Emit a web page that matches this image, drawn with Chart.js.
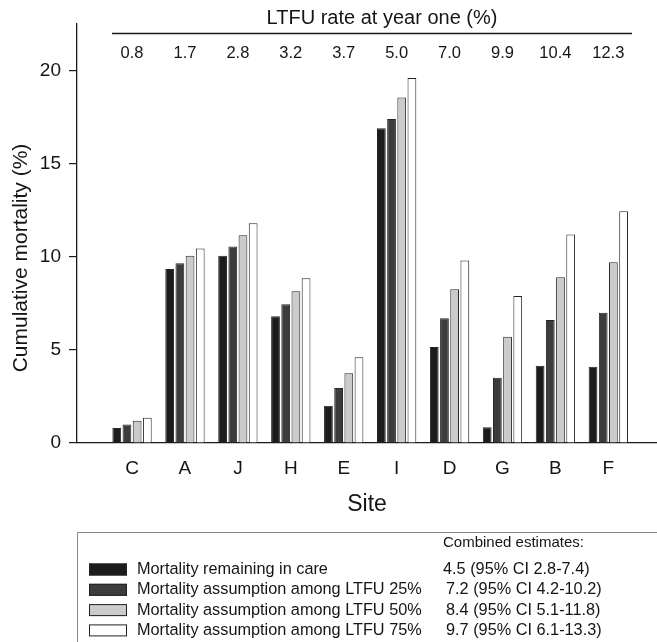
<!DOCTYPE html>
<html lang="en">
<head>
    <meta charset="UTF-8">
    <title>Cumulative mortality by site</title>
    <script src="https://cdn.jsdelivr.net/npm/chart.js"></script>
    <style>
        body { margin: 0; background: #fff; }
        canvas { display: block; }
    </style>
</head>
<body>
    <canvas id="grafico" width="657" height="642"></canvas>
<script>
    // dados
    const sites = ['C', 'A', 'J', 'H', 'E', 'I', 'D', 'G', 'B', 'F'];
    const ltfuRates = ['0.8', '1.7', '2.8', '3.2', '3.7', '5.0', '7.0', '9.9', '10.4', '12.3'];
    const yTicks = [0, 5, 10, 15, 20];

    const seriesNames = [
        'Mortality remaining in care',
        'Mortality assumption among LTFU 25%',
        'Mortality assumption among LTFU 50%',
        'Mortality assumption among LTFU 75%'
    ];
    const estimates = [
        '4.5 (95% CI 2.8-7.4)',
        '7.2 (95% CI 4.2-10.2)',
        '8.4 (95% CI 5.1-11.8)',
        '9.7 (95% CI 6.1-13.3)'
    ];

    const remainingInCare = [0.8, 9.35, 10.05, 6.8, 2.0, 16.9, 5.15, 0.85, 4.15, 4.1];
    const ltfu25 = [1.0, 9.65, 10.55, 7.45, 2.95, 17.4, 6.7, 3.5, 6.6, 7.0];
    const ltfu50 = [1.2, 10.05, 11.15, 8.15, 3.75, 18.55, 8.25, 5.7, 8.9, 9.7];
    const ltfu75 = [1.35, 10.45, 11.8, 8.85, 4.6, 19.6, 9.8, 7.9, 11.2, 12.45];

    const seriesValues = [remainingInCare, ltfu25, ltfu50, ltfu75];
    const fillColors = ['#1c1c1c', '#3c3c3c', '#cbcbcb', '#ffffff'];

    const fonte = "'Liberation Sans', Arial, sans-serif";
    const corTexto = '#151515';

    // eixo superior (taxa de LTFU), titulo do eixo y e legenda desenhados a mao
    const extras = {
        id: 'extras',
        afterDraw(chart) {
            const ctx = chart.ctx;
            const x = chart.scales.x;
            ctx.save();
            ctx.fillStyle = corTexto;
            ctx.strokeStyle = '#1a1a1a';

            // titulo e linha do eixo superior
            ctx.font = '20px ' + fonte;
            ctx.textAlign = 'center';
            ctx.textBaseline = 'middle';
            ctx.fillText('LTFU rate at year one (%)', 382, 18);
            ctx.lineWidth = 1.3;
            ctx.beginPath();
            ctx.moveTo(112, 33.5);
            ctx.lineTo(632, 33.5);
            ctx.stroke();

            ctx.font = '16.5px ' + fonte;
            for (let i = 0; i < ltfuRates.length; i++) {
                ctx.fillText(ltfuRates[i], x.getPixelForValue(i), 53);
            }

            // titulo do eixo y
            ctx.save();
            ctx.translate(21, 258);
            ctx.rotate(-Math.PI / 2);
            ctx.font = '21px ' + fonte;
            ctx.fillText('Cumulative mortality (%)', 0, 0);
            ctx.restore();

            // legenda
            ctx.lineWidth = 1;
            ctx.strokeStyle = '#8a8a8a';
            ctx.strokeRect(77.5, 532.5, 600, 130);

            ctx.textAlign = 'left';
            ctx.font = '15px ' + fonte;
            ctx.fillText('Combined estimates:', 443, 543);

            ctx.font = '16.3px ' + fonte;
            for (let i = 0; i < seriesNames.length; i++) {
                const y = 569.5 + i * 20.3;
                ctx.fillStyle = fillColors[i];
                ctx.fillRect(89, y - 6, 38, 12);
                ctx.strokeStyle = '#222';
                ctx.strokeRect(89.5, y - 5.5, 37, 11);
                ctx.fillStyle = corTexto;
                ctx.fillText(seriesNames[i], 137, y);
                ctx.fillText(estimates[i], i === 0 ? 443 : 446, y);
            }
            ctx.restore();
        }
    };

    const datasets = seriesNames.map((nome, s) => ({
        label: nome,
        data: sites.map((site, i) => ({ x: i, y: seriesValues[s][i] })),
        backgroundColor: fillColors[s],
        borderColor: '#262626',
        borderWidth: 1,
        categoryPercentage: 0.77,
        barPercentage: 0.86
    }));

    new Chart(document.getElementById('grafico'), {
        type: 'bar',
        data: { datasets: datasets },
        options: {
            responsive: false,
            animation: false,
            layout: { padding: { top: 24, right: 0, bottom: 124, left: 0 } },
            plugins: {
                legend: { display: false },
                tooltip: { enabled: false }
            },
            scales: {
                x: {
                    type: 'linear',
                    offset: false,
                    min: -1.04,
                    max: 9.92,
                    afterBuildTicks: (scale) => {
                        scale.ticks = sites.map((s, i) => ({ value: i }));
                    },
                    afterFit: (scale) => { scale.height = 75; },
                    grid: { display: false, drawTicks: false, tickLength: 0, offset: false },
                    border: { display: true, color: '#1a1a1a', width: 1.3 },
                    ticks: {
                        color: corTexto,
                        font: { family: fonte, size: 19 },
                        padding: 14,
                        maxRotation: 0,
                        autoSkip: false,
                        callback: (v) => sites[v] !== undefined ? sites[v] : ''
                    },
                    title: {
                        display: true,
                        text: 'Site',
                        color: corTexto,
                        font: { family: fonte, size: 23 },
                        padding: { top: 0, bottom: 0 }
                    }
                },
                y: {
                    min: 0,
                    max: 22.5,
                    afterBuildTicks: (scale) => {
                        scale.ticks = yTicks.map(v => ({ value: v }));
                    },
                    afterFit: (scale) => { scale.width = 77; },
                    grid: {
                        drawOnChartArea: false,
                        drawTicks: true,
                        tickLength: 8,
                        color: '#1a1a1a',
                        lineWidth: 1.2
                    },
                    border: { display: true, color: '#1a1a1a', width: 1.3 },
                    ticks: {
                        color: corTexto,
                        font: { family: fonte, size: 19 },
                        padding: 8
                    },
                    title: { display: false }
                }
            }
        },
        plugins: [extras]
    });
</script>
</body>
</html>
